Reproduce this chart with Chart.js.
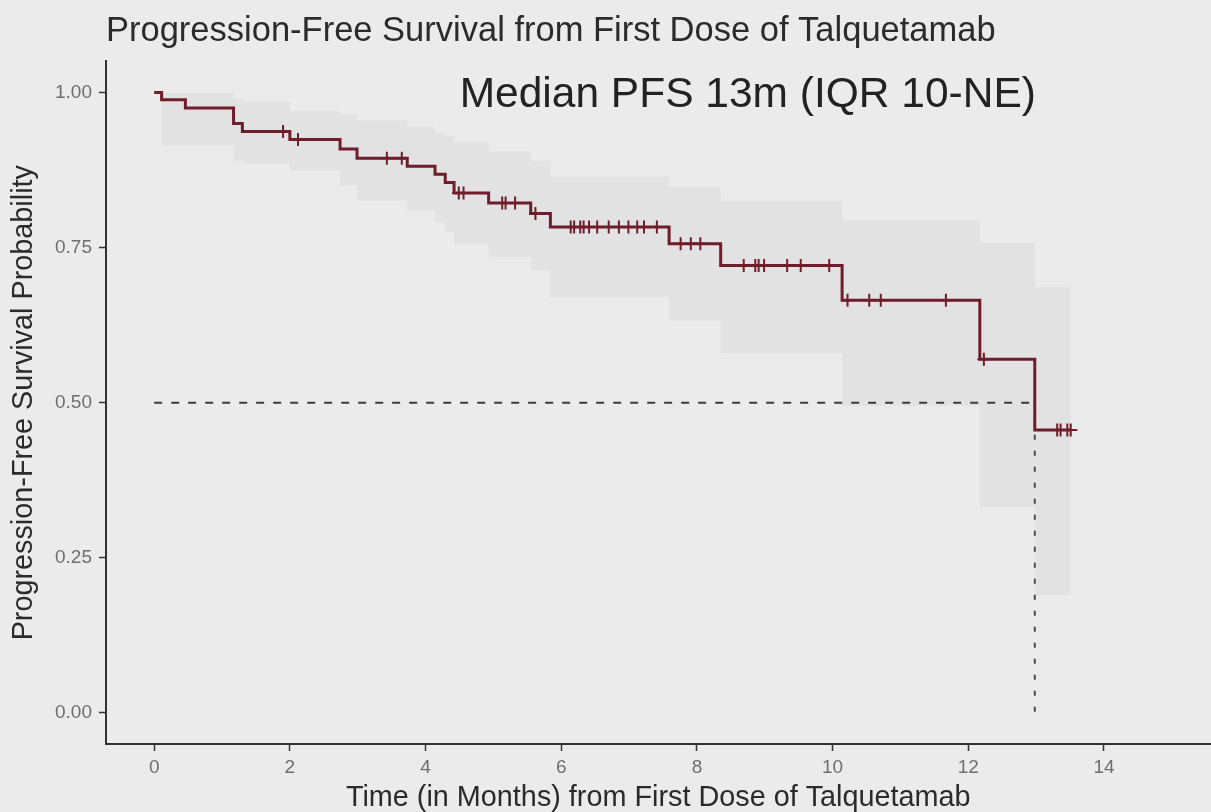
<!DOCTYPE html>
<html>
<head>
<meta charset="utf-8">
<title>Progression-Free Survival</title>
<script src="https://cdn.jsdelivr.net/npm/chart.js@4/dist/chart.umd.min.js"></script>
<style>
  html, body { margin: 0; padding: 0; background: #ebebeb; overflow: hidden; }
  #wrap { width: 1219px; height: 812px; position: relative; }
</style>
</head>
<body>
<div id="wrap"><canvas id="pfsChart"></canvas></div>
<script>
// Kaplan-Meier steps: time of each event (months) and survival after it
const eventTimes   = [0, 0.11, 0.46, 1.17, 1.30, 2.00, 2.74, 2.99, 3.73, 4.14, 4.29, 4.42, 4.93, 5.55, 5.84, 7.59, 8.35, 10.14, 12.17, 12.98];
const survivalProb = [1.000, 0.988, 0.975, 0.950, 0.937, 0.924, 0.909, 0.894, 0.881, 0.868, 0.855, 0.838, 0.822, 0.805, 0.783, 0.756, 0.721, 0.665, 0.570, 0.456];

// 95% confidence band at the same steps
const ciUpper = [1.00, 1.00, 1.00, 0.99, 0.985, 0.97, 0.965, 0.955, 0.945, 0.935, 0.93, 0.92, 0.905, 0.89, 0.864, 0.848, 0.826, 0.794, 0.757, 0.686];
const ciLower = [1.00, 0.915, 0.915, 0.89, 0.885, 0.874, 0.85, 0.826, 0.81, 0.79, 0.775, 0.755, 0.735, 0.713, 0.67, 0.633, 0.58, 0.495, 0.332, 0.19];

// censored patients (months)
const censorTimes = [1.90, 2.12, 3.43, 3.65, 4.49, 4.56, 5.13, 5.18, 5.32, 5.62,
  6.14, 6.19, 6.28, 6.33, 6.41, 6.53, 6.70, 6.85, 6.99, 7.12, 7.22, 7.41,
  7.76, 7.91, 8.05, 8.69, 8.86, 8.91, 8.99, 9.33, 9.53, 9.95,
  10.22, 10.54, 10.71, 11.67, 12.23, 13.31, 13.36, 13.46, 13.51];
const lastFollowUp = 13.51;

const xTicks = [0, 2, 4, 6, 8, 10, 12, 14];
const yTicks = [0, 0.25, 0.5, 0.75, 1];

const medianTime = 12.98;
const medianLevel = 0.5;

const annotationText = 'Median PFS 13m (IQR 10-NE)';
const annotationX = 8.75;
const annotationY = 1.0;

const curveColor = '#6f1d2a';

function survivalAt(t) {
  let s = survivalProb[0];
  for (let i = 0; i < eventTimes.length; i++) {
    if (eventTimes[i] <= t) s = survivalProb[i];
  }
  return s;
}

function stepPoints(values) {
  const pts = eventTimes.map((t, i) => ({ x: t, y: values[i] }));
  pts.push({ x: lastFollowUp, y: values[values.length - 1] });
  return pts;
}

// draws the median text inside the plot
const annotationPlugin = {
  id: 'medianText',
  afterDatasetsDraw(chart) {
    const { ctx, scales } = chart;
    ctx.save();
    ctx.font = '42.5px "Liberation Sans", Arial, sans-serif';
    ctx.fillStyle = '#222';
    ctx.textAlign = 'center';
    ctx.textBaseline = 'middle';
    ctx.fillText(annotationText, scales.x.getPixelForValue(annotationX), scales.y.getPixelForValue(annotationY) + 3);
    ctx.restore();
  }
};

Chart.defaults.font.family = '"Liberation Sans", Arial, sans-serif';

const ctx = document.getElementById('pfsChart').getContext('2d');
const pfsChart = new Chart(ctx, {
  type: 'line',
  data: {
    datasets: [
      {
        label: 'censored',
        type: 'scatter',
        data: censorTimes.map(t => ({ x: t, y: survivalAt(t) })),
        pointStyle: 'cross',
        pointRadius: 6.5,
        borderColor: curveColor,
        borderWidth: 2,
        order: 0
      },
      {
        label: 'PFS',
        data: stepPoints(survivalProb),
        stepped: 'before',
        borderColor: curveColor,
        borderWidth: 3,
        pointRadius: 0,
        fill: false,
        order: 1
      },
      {
        label: 'median h',
        data: [{ x: 0, y: medianLevel }, { x: medianTime, y: medianLevel }],
        borderColor: '#3c3c3c',
        borderWidth: 2,
        borderDash: [8, 9],
        pointRadius: 0,
        fill: false,
        order: 2
      },
      {
        label: 'median v',
        data: [{ x: medianTime, y: medianLevel }, { x: medianTime, y: 0 }],
        borderColor: '#4a4a4a',
        borderWidth: 2,
        borderDash: [5, 11],
        pointRadius: 0,
        fill: false,
        order: 2
      },
      {
        label: 'upper',
        data: stepPoints(ciUpper),
        stepped: 'before',
        borderWidth: 0,
        borderColor: 'rgba(0,0,0,0)',
        pointRadius: 0,
        fill: false,
        order: 3
      },
      {
        label: 'lower',
        data: stepPoints(ciLower),
        stepped: 'before',
        borderWidth: 0,
        borderColor: 'rgba(0,0,0,0)',
        backgroundColor: 'rgba(190,190,190,0.2)',
        pointRadius: 0,
        fill: '-1',
        order: 3
      }
    ]
  },
  options: {
    responsive: true,
    maintainAspectRatio: false,
    animation: false,
    events: [],
    layout: { padding: 0 },
    plugins: {
      legend: { display: false },
      tooltip: { enabled: false },
      title: {
        display: true,
        text: 'Progression-Free Survival from First Dose of Talquetamab',
        align: 'start',
        fullSize: false,
        color: '#2b2b2b',
        font: { size: 34.5, weight: 'normal' },
        padding: { top: 11, bottom: 9 }
      }
    },
    scales: {
      x: {
        type: 'linear',
        min: -0.71,
        max: 15.57,
        afterBuildTicks: scale => { scale.ticks = xTicks.map(v => ({ value: v })); },
        afterFit: scale => { scale.height = 68; },
        grid: { drawOnChartArea: false, drawTicks: true, tickLength: 7, tickColor: '#333', tickWidth: 1.5 },
        border: { display: true, color: '#333', width: 2 },
        ticks: { color: '#6e6e6e', font: { size: 19 }, padding: 5 },
        title: {
          display: true,
          text: 'Time (in Months) from First Dose of Talquetamab',
          color: '#2b2b2b',
          font: { size: 28.8 },
          padding: { top: 0, bottom: -3 }
        }
      },
      y: {
        type: 'linear',
        min: -0.05,
        max: 1.05,
        afterBuildTicks: scale => { scale.ticks = yTicks.map(v => ({ value: v })); },
        afterFit: scale => { scale.width = 106; },
        grid: { drawOnChartArea: false, drawTicks: true, tickLength: 7, tickColor: '#333', tickWidth: 1.5 },
        border: { display: true, color: '#333', width: 2 },
        ticks: { color: '#6e6e6e', font: { size: 19 }, padding: 7, callback: v => v.toFixed(2) },
        title: {
          display: true,
          text: 'Progression-Free Survival Probability',
          color: '#2b2b2b',
          font: { size: 28.8 },
          padding: { top: 7, bottom: 0 }
        }
      }
    }
  },
  plugins: [annotationPlugin]
});
</script>
</body>
</html>
